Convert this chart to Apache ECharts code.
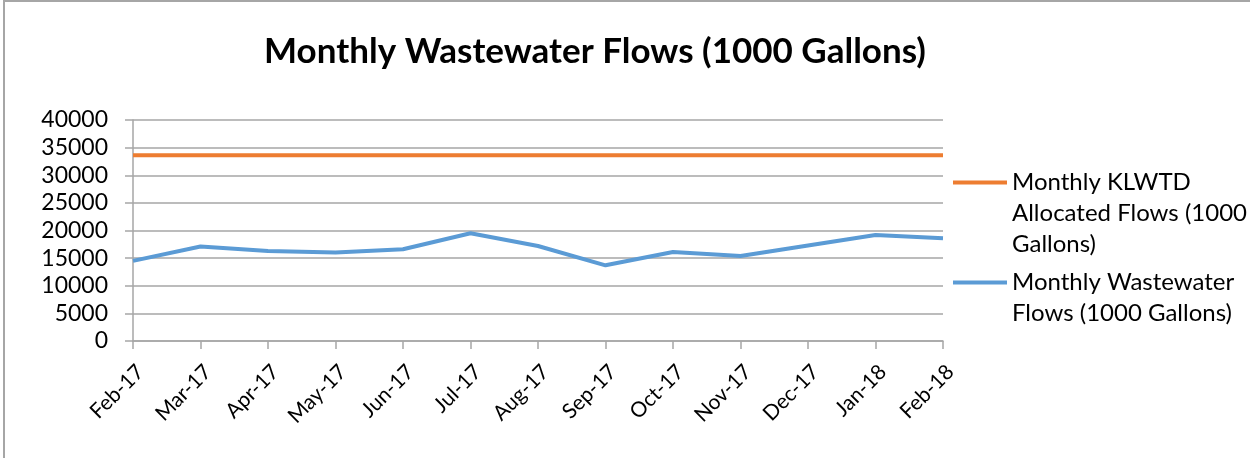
<!DOCTYPE html>
<html>
<head>
<meta charset="utf-8">
<title>Monthly Wastewater Flows</title>
<script src="https://cdn.jsdelivr.net/npm/echarts@6/dist/echarts.min.js"></script>
<style>
  html, body { margin: 0; padding: 0; background: #fff; }
  #wrap { position: relative; width: 1250px; height: 458px; overflow: hidden; }
  #frame { position: absolute; left: 3px; top: 0; width: 1300px; height: 500px;
           border-left: 2px solid #a6a6a6; border-top: 2px solid #a6a6a6; }
  #chart { position: absolute; left: 0; top: 0; width: 1250px; height: 458px; }
</style>
</head>
<body>
<div id="wrap">
  <div id="frame"></div>
  <div id="chart"></div>
</div>
<script>
const months = ['Feb-17', 'Mar-17', 'Apr-17', 'May-17', 'Jun-17', 'Jul-17', 'Aug-17',
  'Sep-17', 'Oct-17', 'Nov-17', 'Dec-17', 'Jan-18', 'Feb-18']
const allocatedFlows = [33600, 33600, 33600, 33600, 33600, 33600, 33600,
  33600, 33600, 33600, 33600, 33600, 33600]
const wastewaterFlows = [14500, 17100, 16300, 16000, 16600, 19500, 17200,
  13700, 16100, 15400, 17300, 19200, 18600]

const allocatedName = 'Monthly KLWTD Allocated Flows (1000 Gallons)'
const wastewaterName = 'Monthly Wastewater Flows (1000 Gallons)'

// legend text is wrapped by hand; leading blank lines keep the icon on the first line
const legendLabels = {
  [allocatedName]: '\n\nMonthly KLWTD\nAllocated Flows (1000\nGallons)',
  [wastewaterName]: '\nMonthly Wastewater\nFlows (1000 Gallons)',
}

const font = 'Lato, "Open Sans", sans-serif'
const gridColor = '#a6a6a6'

const chart = echarts.init(document.getElementById('chart'))

chart.setOption({
  animation: false,
  title: {
    text: 'Monthly Wastewater Flows (1000 Gallons)',
    left: 590,
    textAlign: 'center',
    top: 29,
    textStyle: { fontFamily: font, fontSize: 35, fontWeight: 'bold', color: '#000' },
  },
  grid: { left: 133, right: 307, top: 120, bottom: 117 },
  legend: {
    orient: 'vertical',
    left: 948,
    top: 100,
    itemGap: -24,
    itemWidth: 54,
    itemHeight: 4,
    icon: 'rect',
    data: [allocatedName, wastewaterName],
    formatter: name => legendLabels[name],
    textStyle: { fontFamily: font, fontSize: 24, lineHeight: 31, color: '#000' },
  },
  xAxis: {
    type: 'category',
    data: months,
    boundaryGap: false,
    axisLine: { lineStyle: { color: gridColor, width: 1.5 } },
    axisTick: { show: true, length: 8, lineStyle: { color: gridColor, width: 1.5 } },
    axisLabel: {
      rotate: 45,
      interval: 0,
      margin: 20,
      verticalAlign: 'top',
      fontFamily: font,
      fontSize: 21,
      color: '#000',
    },
  },
  yAxis: {
    type: 'value',
    min: 0,
    max: 40000,
    interval: 5000,
    axisLine: { show: true, lineStyle: { color: gridColor, width: 1.5 } },
    axisTick: { show: true, length: 8, lineStyle: { color: gridColor, width: 1.5 } },
    splitLine: { lineStyle: { color: gridColor, width: 1.5 } },
    axisLabel: {
      fontFamily: font,
      fontSize: 23,
      color: '#000',
      margin: 25,
      formatter: v => String(v),
    },
  },
  series: [
    {
      name: allocatedName,
      type: 'line',
      data: allocatedFlows,
      showSymbol: false,
      symbol: 'none',
      lineStyle: { color: '#ed7d31', width: 4 },
      itemStyle: { color: '#ed7d31' },
    },
    {
      name: wastewaterName,
      type: 'line',
      data: wastewaterFlows,
      showSymbol: false,
      symbol: 'none',
      lineStyle: { color: '#5b9bd5', width: 4 },
      itemStyle: { color: '#5b9bd5' },
    },
  ],
})

window.addEventListener('resize', () => chart.resize())
</script>
</body>
</html>
